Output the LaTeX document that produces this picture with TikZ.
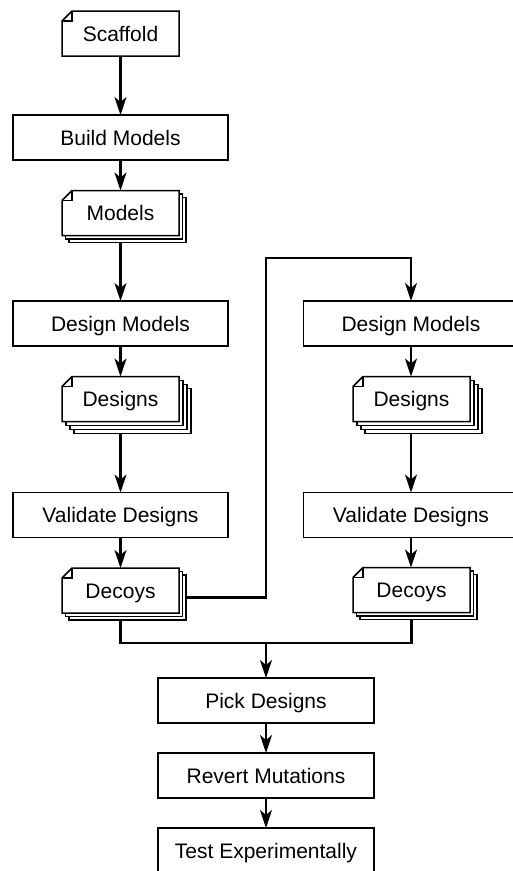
\documentclass[tikz,border=0pt]{standalone}
\usepackage{fontspec}
\setmainfont{Liberation Sans}
\usetikzlibrary{arrows.meta,calc}
\tikzset{
  x=1pt,y=-1pt,
  boxline/.style={line width=1.5pt},
  procbox/.style={draw, boxline, fill=white, minimum width=215pt, minimum height=45pt, inner sep=0pt, outer sep=0pt,
    font=\fontsize{21pt}{25pt}\selectfont, text height=15pt, text depth=0pt},
  notefront/.style={fill=white, minimum width=117pt, minimum height=45pt, inner sep=0pt, outer sep=0pt,
    font=\fontsize{21pt}{25pt}\selectfont, text height=15pt, text depth=0pt},
  layer/.style={draw, boxline, fill=white, minimum width=117pt, minimum height=45pt, inner sep=0pt, outer sep=0pt},
  conn/.style={line width=2.2pt, -{Stealth[length=18pt,width=12pt,inset=5pt]}},
  plainline/.style={line width=2.2pt},
}
\newcommand\foldoutline[1]{%
  \draw[boxline] ([xshift=10pt]#1.north west) -- (#1.north east) -- (#1.south east) -- (#1.south west) -- ([yshift=-10pt]#1.north west) -- cycle;
  \draw[line width=1.2pt] ([yshift=-10pt]#1.north west) -| ([xshift=10pt]#1.north west);}
\begin{document}
\begin{tikzpicture}
\useasboundingbox (0,0) rectangle (513,871);
\clip (0,0) rectangle (513,871);

% ---- left column ----
\node[notefront] (scaffold) at (120.5,33.5) {Scaffold};
\foldoutline{scaffold}

\node[procbox] (build) at (120.5,137.5) {Build Models};

\node[layer] (models-2) at (127.5,220) {};
\node[layer] (models-1) at (124,216.5) {};
\node[notefront] (models) at (120.5,213) {Models};
\foldoutline{models}

\node[procbox] (dmL) at (120.5,323.5) {Design Models};

\node[layer] (desL-3) at (132.5,411) {};
\node[layer] (desL-2) at (128.5,407) {};
\node[layer] (desL-1) at (124.5,403) {};
\node[notefront] (desL) at (120.5,399) {Designs};
\foldoutline{desL}

\node[procbox] (valL) at (120.5,515) {Validate Designs};

\node[layer] (decL-2) at (127.5,597.5) {};
\node[layer] (decL-1) at (124,594) {};
\node[notefront] (decL) at (120.5,590.5) {Decoys};
\foldoutline{decL}

% ---- right column ----
\node[procbox] (dmR) at (411,323.5) {Design Models};

\node[layer] (desR-3) at (423.5,411) {};
\node[layer] (desR-2) at (419.5,407) {};
\node[layer] (desR-1) at (415.5,403) {};
\node[notefront] (desR) at (411.5,399) {Designs};
\foldoutline{desR}

\node[procbox] (valR) at (411,515) {Validate Designs};

\node[layer] (decR-2) at (418.5,597) {};
\node[layer] (decR-1) at (415,593.5) {};
\node[notefront] (decR) at (411.5,590) {Decoys};
\foldoutline{decR}

% ---- bottom ----
\node[procbox, minimum width=216pt] (pick) at (266,700.5) {Pick Designs};
\node[procbox, minimum width=216pt] (revert) at (266,775.5) {Revert Mutations};
\node[procbox, minimum width=216pt] (test) at (266,850.5) {Test Experimentally};

\coordinate (j1) at (266,258);
\coordinate (m) at (266,643);

% ---- connectors ----
\draw[conn] (scaffold.south) -- (build.north);
\draw[conn] (build.south) -- (models.north);
\draw[conn] (models.south |- models-2.south) -- (dmL.north);
\draw[conn] (dmL.south) -- (desL.north);
\draw[conn] (desL.south |- desL-3.south) -- (valL.north);
\draw[conn] (valL.south) -- (decL.north);

\draw[conn] (decL-2.east) -| (j1) -| (dmR.north);
\draw[conn] (dmR.south) -- (dmR.south |- desR.north);
\draw[conn] (dmR.south |- desR-3.south) -- (valR.north);
\draw[conn] (valR.south) -- (valR.south |- decR.north);

\draw[plainline] (decL.south |- decL-2.south) |- (m);
\draw[plainline] (decR.south |- decR-2.south) |- (m);
\draw[conn] (m) -- (pick.north);
\draw[conn] (pick.south) -- (revert.north);
\draw[conn] (revert.south) -- (test.north);
\end{tikzpicture}
\end{document}
